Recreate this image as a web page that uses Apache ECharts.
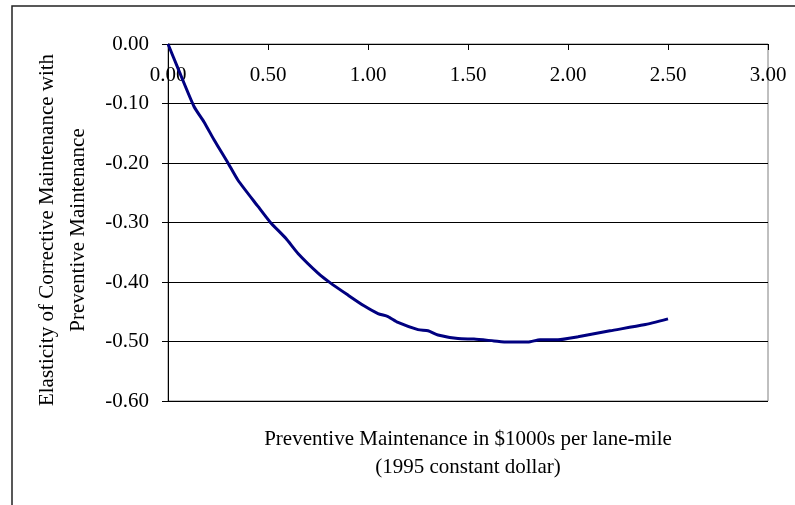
<!DOCTYPE html>
<html>
<head>
<meta charset="utf-8">
<script src="https://cdn.jsdelivr.net/npm/echarts@6/dist/echarts.min.js"></script>
<style>
html,body{margin:0;padding:0;background:#fff;}
#chart{width:795px;height:505px;}
</style>
</head>
<body>
<div id="chart"></div>
<script>
// Preventive maintenance ($1000s per lane-mile)
var xValues = [0, 0.05, 0.13, 0.18, 0.23, 0.30, 0.35, 0.45, 0.51, 0.59, 0.65, 0.75, 0.81, 0.90, 0.98, 1.05, 1.10, 1.15, 1.25, 1.30, 1.35, 1.45, 1.53, 1.63, 1.70, 1.80, 1.86, 1.95, 2.05, 2.21, 2.38, 2.50];
// Elasticity of corrective maintenance
var elasticity = [0, -0.041, -0.105, -0.131, -0.161, -0.200, -0.229, -0.273, -0.299, -0.327, -0.352, -0.385, -0.401, -0.422, -0.440, -0.453, -0.458, -0.468, -0.480, -0.482, -0.489, -0.495, -0.496, -0.499, -0.501, -0.501, -0.497, -0.497, -0.492, -0.482, -0.472, -0.462];
var xTitle = 'Preventive Maintenance in $1000s per lane-mile\n(1995 constant dollar)';
var yTitle = 'Elasticity of Corrective Maintenance with\nPreventive Maintenance';

var FONT = '"Liberation Serif", "Times New Roman", serif';
var chart = echarts.init(document.getElementById('chart'), null, {renderer: 'canvas'});
var points = xValues.map(function (x, i) { return [x, elasticity[i]]; });

chart.setOption({
  animation: false,
  backgroundColor: '#fff',
  grid: {left: 168, top: 44, right: 27, bottom: 104, show: true, borderColor: '#808080', borderWidth: 1, backgroundColor: 'transparent'},
  xAxis: {
    type: 'value', position: 'top', min: 0, max: 3, interval: 0.5,
    axisLine: {show: true, onZero: false, lineStyle: {color: '#000', width: 1}},
    axisTick: {show: true, inside: true, length: 6, lineStyle: {color: '#000'}},
    axisLabel: {inside: true, margin: 21, color: '#000', fontFamily: FONT, fontSize: 21,
      formatter: function (v) { return v.toFixed(2); }},
    splitLine: {show: false}
  },
  yAxis: {
    type: 'value', min: -0.6, max: 0, interval: 0.1,
    axisLine: {show: true, onZero: false, lineStyle: {color: '#000', width: 1}},
    axisTick: {show: true, length: 6, lineStyle: {color: '#000'}},
    axisLabel: {margin: 19, color: '#000', fontFamily: FONT, fontSize: 21,
      formatter: function (v) { return v.toFixed(2); }},
    splitLine: {show: true, lineStyle: {color: '#000', width: 1}}
  },
  series: [{
    type: 'line', data: points, showSymbol: false, smooth: 0.2,
    lineStyle: {color: '#000080', width: 3}
  }],
  graphic: [
    {type: 'rect', shape: {x: 12, y: 6, width: 820, height: 540}, style: {fill: 'none', stroke: '#222', lineWidth: 1.5}, silent: true},
    {type: 'text', x: 63, y: 230, rotation: Math.PI / 2,
      style: {text: yTitle, font: '21px ' + FONT, fill: '#000', align: 'center', verticalAlign: 'middle', lineHeight: 31}},
    {type: 'text', x: 468, y: 453,
      style: {text: xTitle, font: '21px ' + FONT, fill: '#000', align: 'center', verticalAlign: 'middle', lineHeight: 28}}
  ]
});
</script>
</body>
</html>
